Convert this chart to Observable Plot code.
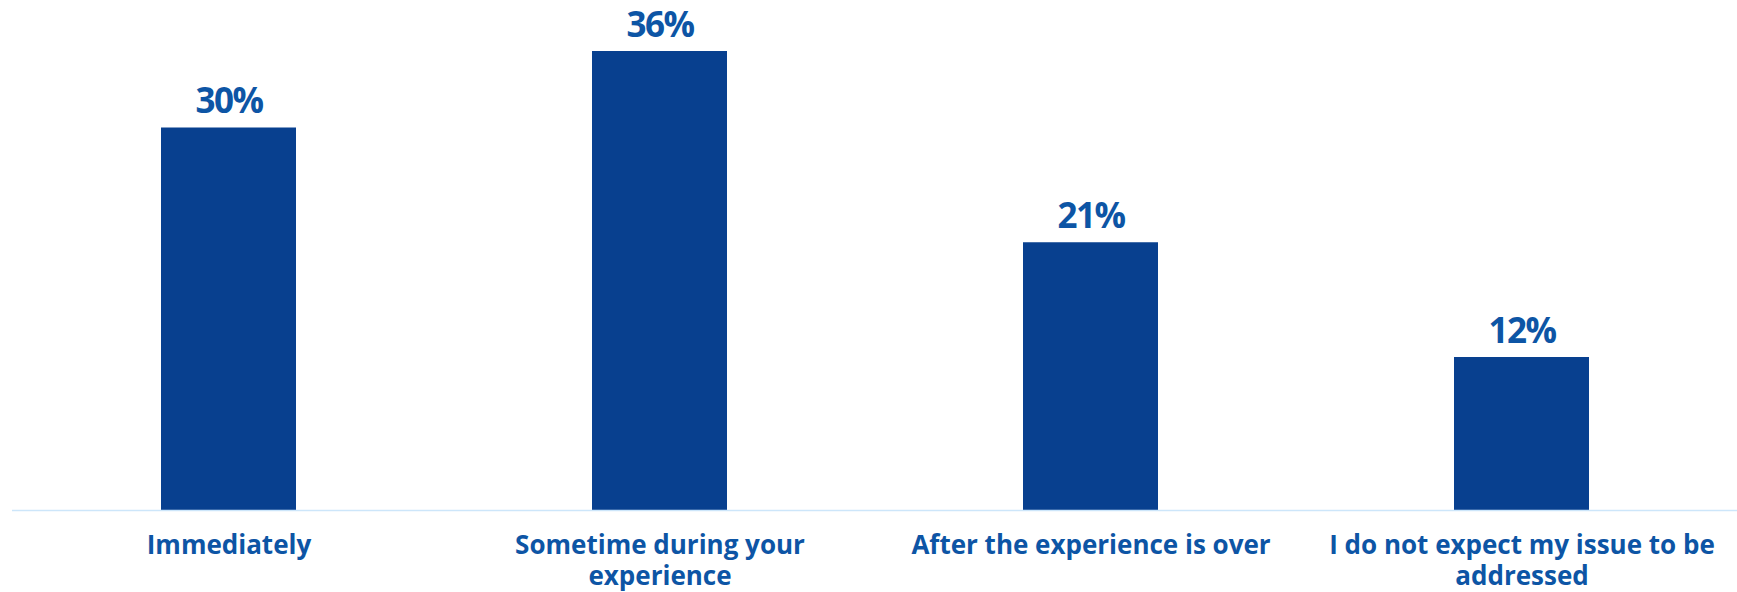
<!DOCTYPE html>
<html>
<head>
<meta charset="utf-8">
<script src="https://cdn.jsdelivr.net/npm/d3@7"></script>
<script src="https://cdn.jsdelivr.net/npm/@observablehq/plot@0.6"></script>
<style>
  html, body { margin: 0; padding: 0; background: #ffffff; }
  #chart svg { display: block; }
  #chart g[aria-label="text"] text { letter-spacing: -1.5px; }
</style>
</head>
<body>
<div id="chart"></div>
<script>
const categories = [
  "Immediately",
  "Sometime during your experience",
  "After the experience is over",
  "I do not expect my issue to be addressed"
];
const tickLabels = [
  "Immediately",
  "Sometime during your\nexperience",
  "After the experience is over",
  "I do not expect my issue to be\naddressed"
];
const values = [30, 36, 21, 12];
const valueLabels = ["30%", "36%", "21%", "12%"];

const data = categories.map((c, i) => ({category: c, value: values[i], label: valueLabels[i]}));

const barColor = "#08408f";
const textColor = "#0d55a5";
const fontFamily = "'Open Sans', sans-serif";

const chart = Plot.plot({
  width: 1737,
  height: 592,
  marginTop: 0,
  marginLeft: 12,
  marginRight: 0,
  marginBottom: 82,
  style: {background: "#ffffff", fontFamily: fontFamily},
  x: {
    domain: categories,
    paddingInner: 0.6875,
    paddingOuter: 0.3414,
    label: null
  },
  y: {
    domain: [0, 40],
    range: [510, 0],
    axis: null
  },
  marks: [
    Plot.barY(data, {x: "category", y: "value", fill: barColor}),
    Plot.ruleY([0], {stroke: "#cde6fa", strokeWidth: 1.5}),
    Plot.text(data, {
      x: "category",
      y: "value",
      text: "label",
      lineAnchor: "bottom",
      dy: -15,
      fill: textColor,
      fontSize: 35,
      fontWeight: "bold",
      fontFamily: fontFamily
    }),
    Plot.axisX({
      tickSize: 0,
      tickPadding: 21,
      fontSize: 26,
      fontWeight: "bold",
      fill: textColor,
      lineHeight: 1.2,
      tickFormat: d => tickLabels[categories.indexOf(d)],
      label: null
    })
  ]
});

document.getElementById("chart").appendChild(chart);
</script>
</body>
</html>
